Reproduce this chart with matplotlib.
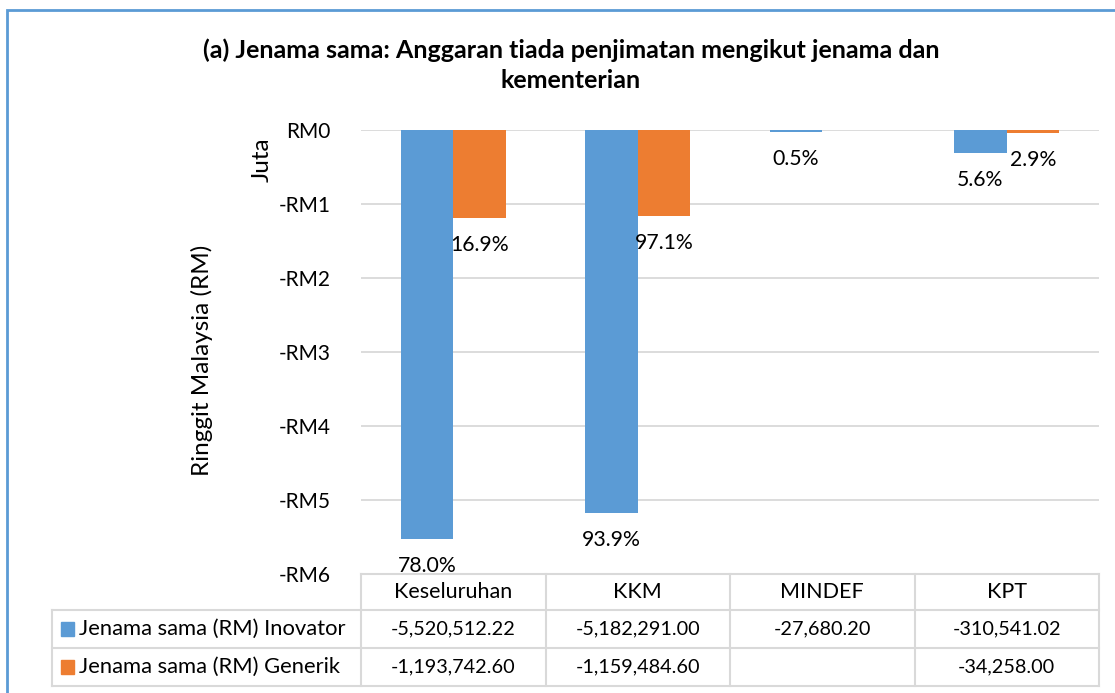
import matplotlib
matplotlib.use("Agg")
import matplotlib.pyplot as plt
from matplotlib.patches import Rectangle
from matplotlib.lines import Line2D

# ---- data ----
categories = ["Keseluruhan", "KKM", "MINDEF", "KPT"]
series_names = ["Jenama sama (RM) Inovator", "Jenama sama (RM) Generik"]
inovator = [-5520512.22, -5182291.00, -27680.20, -310541.02]
generik = [-1193742.60, -1159484.60, None, -34258.00]
inovator_pct = ["78.0%", "93.9%", "0.5%", "5.6%"]
generik_pct = ["16.9%", "97.1%", "", "2.9%"]
yticks = [0, -1, -2, -3, -4, -5, -6]
ytick_labels = ["RM0", "-RM1", "-RM2", "-RM3", "-RM4", "-RM5", "-RM6"]
title = "(a) Jenama sama: Anggaran tiada penjimatan mengikut jenama dan\nkementerian"

BLUE = "#5B9BD5"
ORANGE = "#ED7D31"
GRID = "#D9D9D9"
FONT = "Lato"

W, H = 1115, 693
fig = plt.figure(figsize=(W / 100, H / 100), dpi=100)
plt.rcParams['font.family'] = [FONT, 'DejaVu Sans']

def fx(px):
    return px / W

def fy(py):
    return 1 - py / H

# outer border
fig.patches.append(Rectangle((fx(7), fy(760)), fx(1200), fy(10) - fy(760),
                             transform=fig.transFigure, fill=False,
                             edgecolor=BLUE, linewidth=2))

ax_l, ax_r, ax_t, ax_b = 361, 1099, 130, 574
ax = fig.add_axes([fx(ax_l), fy(ax_b), fx(ax_r - ax_l), fy(ax_t) - fy(ax_b)])

n = len(categories)
x = list(range(n))
bw = 0.285
inov_m = [v / 1e6 for v in inovator]
gen_m = [(v / 1e6 if v is not None else 0) for v in generik]
ax.bar([i - bw / 2 for i in x], inov_m, width=bw, color=BLUE, zorder=3)
ax.bar([i + bw / 2 for i in x], gen_m, width=bw, color=ORANGE, zorder=3)

PCT_FS = 15.3
for i in x:
    if inovator_pct[i]:
        ax.annotate(inovator_pct[i], (i - bw / 2, inov_m[i]), xytext=(0, -27),
                    textcoords="offset pixels", ha="center", va="center",
                    fontsize=PCT_FS, color="#000000", zorder=4,
                    annotation_clip=False)
    if generik[i] is not None and generik_pct[i]:
        ax.annotate(generik_pct[i], (i + bw / 2, gen_m[i]), xytext=(0, -27),
                    textcoords="offset pixels", ha="center", va="center",
                    fontsize=PCT_FS, color="#000000", zorder=4,
                    annotation_clip=False)

ax.set_xlim(-0.5, n - 0.5)
ax.set_ylim(-6, 0)
ax.set_yticks(yticks)
ax.set_yticklabels(ytick_labels, fontsize=15)
ax.tick_params(axis='y', length=0, pad=22)
ax.set_xticks([])
ax.grid(axis='y', color=GRID, linewidth=1.3, zorder=0)
for s in ax.spines.values():
    s.set_visible(False)

# axis titles
fig.text(fx(202), fy(360), "Ringgit Malaysia (RM)", rotation=90, ha="center",
         va="center", fontsize=17.5)
fig.text(fx(262), fy(160), "Juta", rotation=90, ha="center", va="center",
         fontsize=17.5)

# title
fig.text(fx(571), fy(65), title, ha="center", va="center", fontsize=18,
         fontweight="bold", linespacing=1.35)

# ---- data table ----
row_y = [574, 610, 648, 686]
col_x = [ax_l + (ax_r - ax_l) * k / n for k in range(n + 1)]
lbl_left = 52
tcol = "#D9D9D9"

def hline(y, x0, x1):
    fig.add_artist(Line2D([fx(x0), fx(x1)], [fy(y), fy(y)], color=tcol,
                          linewidth=1.5, transform=fig.transFigure))

def vline(x_, y0, y1):
    fig.add_artist(Line2D([fx(x_), fx(x_)], [fy(y0), fy(y1)], color=tcol,
                          linewidth=1.5, transform=fig.transFigure))

hline(row_y[0], col_x[0], col_x[-1])
for yy in row_y[1:]:
    hline(yy, lbl_left, col_x[-1])
for xx in col_x:
    vline(xx, row_y[0], row_y[-1])
vline(lbl_left, row_y[1], row_y[-1])

for k, c in enumerate(categories):
    cx = (col_x[k] + col_x[k + 1]) / 2
    fig.text(fx(cx), fy((row_y[0] + row_y[1]) / 2), c, ha="center",
             va="center", fontsize=15.5)

def fmt(v):
    return "" if v is None else f"{v:,.2f}"

for r, (name, vals, colr) in enumerate(zip(series_names, [inovator, generik],
                                           [BLUE, ORANGE])):
    yc = (row_y[r + 1] + row_y[r + 2]) / 2
    fig.patches.append(Rectangle((fx(61), fy(yc + 7)), fx(13), fy(yc - 7) - fy(yc + 7),
                                 transform=fig.transFigure, color=colr))
    fig.text(fx(79), fy(yc), name, ha="left", va="center", fontsize=15.8)
    for k, v in enumerate(vals):
        cx = (col_x[k] + col_x[k + 1]) / 2
        fig.text(fx(cx), fy(yc), fmt(v), ha="center", va="center", fontsize=14.3)

fig.savefig("out.png", dpi=100, facecolor="white")
